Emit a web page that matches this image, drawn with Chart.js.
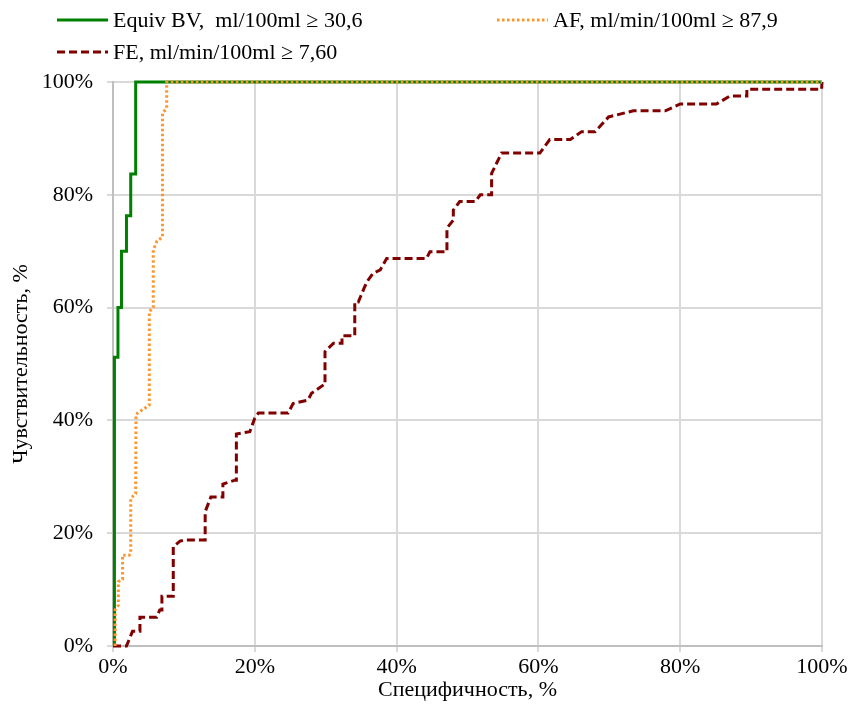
<!DOCTYPE html>
<html>
<head>
<meta charset="utf-8">
<script src="https://cdn.jsdelivr.net/npm/chart.js@4.4.1/dist/chart.umd.min.js"></script>
<style>
  body { margin: 0; background: #fff; }
  #wrap { position: relative; width: 850px; height: 706px; }
  #legend {
    position: absolute; left: 57px; top: 4px;
    display: grid; grid-template-columns: 440px auto; row-gap: 0px;
    font-family: "Liberation Serif", "Times New Roman", serif; font-size: 22px; color: #000;
  }
  .item { display: flex; align-items: center; height: 32px; white-space: pre; }
  .item svg { margin-right: 5px; }
</style>
</head>
<body>
<div id="wrap">
  <canvas id="myChart" width="850" height="706"></canvas>
  <div id="legend"></div>
</div>
<script>
// series labels
var labels = ['Equiv BV,  ml/100ml \u2265 30,6', 'AF, ml/min/100ml \u2265 87,9', 'FE, ml/min/100ml \u2265 7,60'];

// 1 - specificity (%), sensitivity (%)
var bvX = [0.2, 0.2, 0.7, 0.7, 1.2, 1.2, 1.9, 1.9, 2.5, 2.5, 3.2, 3.2, 100];
var bvY = [0, 51.2, 51.2, 60, 60, 70, 70, 76.3, 76.3, 83.7, 83.7, 100, 100];

var afX = [0.3, 0.3, 0.75, 0.75, 1.35, 1.35, 2.3, 2.5, 2.5, 3.2, 3.24, 5.12, 5.12, 5.68, 5.68, 6.2, 6.98, 6.98, 7.57, 7.57, 100];
var afY = [0, 6.4, 7.2, 11.4, 11.8, 16.1, 16.1, 16.5, 26.2, 27, 41.1, 42.7, 59.3, 60, 70.2, 71.8, 72.5, 94.5, 95.3, 100, 100];

var feX = [0, 1.9, 2.75, 3.8, 3.8, 6.16, 6.6, 6.9, 6.9, 8.5, 8.5, 9.45, 10.15, 13.0, 13.0, 13.8, 15.5, 15.5, 17.2, 17.4, 17.4,
  19.3, 20.0, 20.5, 24.7, 25.4, 27.5, 28.0, 28.7, 29.7, 29.9, 29.9, 31.1, 32.3, 32.3, 34.1, 34.1, 34.6, 35.5, 36.0, 36.7,
  37.7, 38.6, 44.2, 44.7, 47.1, 47.1, 48.0, 48.0, 48.9, 51.1, 51.8, 53.4, 53.4, 54.8, 60.2, 61.6, 64.5, 66.1, 68.0, 69.9,
  73.4, 77.9, 80.0, 85.1, 87.0, 89.4, 89.4, 99.95, 100];
var feY = [0, 0, 2.6, 2.6, 5.1, 5.1, 6.4, 6.4, 8.8, 8.8, 17.6, 18.6, 18.8, 18.8, 23.8, 26.4, 26.4, 28.7, 29.4, 29.4, 37.6,
  38.0, 40.4, 41.3, 41.3, 43.0, 43.6, 44.8, 45.4, 46.3, 46.3, 52.2, 53.7, 53.7, 55.0, 55.0, 61.0, 61.0, 63.7, 64.9, 66.1,
  66.7, 68.7, 68.7, 69.9, 69.9, 74.1, 75.5, 77.3, 78.8, 78.8, 80.0, 80.0, 83.8, 87.4, 87.4, 89.8, 89.8, 91.2, 91.2, 93.8,
  94.9, 94.9, 96.1, 96.1, 97.5, 97.5, 98.7, 98.7, 100];

var xTicks = [0, 20, 40, 60, 80, 100];

function pts(xs, ys) {
  var out = [];
  for (var i = 0; i < xs.length; i++) {
    out.push({x: xs[i], y: ys[i]});
  }
  return out;
}

var font = "'Liberation Serif', 'Times New Roman', serif";

const data = {
  datasets: [
    {
      label: labels[0],
      data: pts(bvX, bvY),
      borderColor: 'rgb(0,128,0)',
      borderWidth: 3,
      order: 1,
    },
    {
      label: labels[1],
      data: pts(afX, afY),
      borderColor: 'rgb(255,150,45)',
      borderWidth: 3,
      borderDash: [2.5, 2.5],
      order: 0,
    },
    {
      label: labels[2],
      data: pts(feX, feY),
      borderColor: 'rgb(128,0,0)',
      borderWidth: 3,
      borderDash: [8, 4],
      order: 2,
    }
  ]
};

const config = {
  type: 'scatter',
  data: data,
  options: {
    responsive: false,
    animation: false,
    layout: { padding: { top: 82, right: 28, left: 0, bottom: 0 } },
    elements: {
      line: { tension: 0, fill: false },
      point: { radius: 0, hoverRadius: 0 }
    },
    datasets: { scatter: { showLine: true, clip: 6 } },
    plugins: {
      legend: { display: false },
      tooltip: { enabled: false }
    },
    scales: {
      x: {
        type: 'linear', min: 0, max: 100,
        afterBuildTicks: function(s) { s.ticks = xTicks.map(function(v) { return {value: v}; }); },
        afterFit: function(s) { s.height = 60; },
        grid: { color: '#d9d9d9', lineWidth: 2, tickLength: 6 },
        border: { color: '#bfbfbf', width: 2 },
        ticks: { color: '#000', padding: 2, font: { family: font, size: 22 }, maxRotation: 0,
                 callback: function(v) { return v + '%'; } },
        title: { display: true, text: 'Специфичность, %', color: '#000',
                 font: { family: font, size: 22 }, padding: { top: 0, bottom: 3 } }
      },
      y: {
        type: 'linear', min: 0, max: 100,
        afterBuildTicks: function(s) { s.ticks = xTicks.map(function(v) { return {value: v}; }); },
        afterFit: function(s) { s.width = 113; },
        grid: { color: '#d9d9d9', lineWidth: 2, tickLength: 6 },
        border: { color: '#bfbfbf', width: 2 },
        ticks: { color: '#000', padding: 14, font: { family: font, size: 22 },
                 callback: function(v) { return v + '%'; } },
        title: { display: true, text: 'Чувствительность, %', color: '#000',
                 font: { family: font, size: 22 }, padding: { top: 8, bottom: 0 } }
      }
    }
  }
};

var myChart = new Chart(document.getElementById('myChart'), config);

// legend in two columns like the original
var legend = document.getElementById('legend');
var samples = [
  {color: 'rgb(0,128,0)', width: 3, dash: ''},
  {color: 'rgb(255,150,45)', width: 3, dash: '2.5,2.5'},
  {color: 'rgb(128,0,0)', width: 3, dash: '8,4'}
];
for (var i = 0; i < labels.length; i++) {
  var s = samples[i];
  var div = document.createElement('div');
  div.className = 'item';
  div.innerHTML = '<svg width="51" height="6"><line x1="0" y1="3" x2="51" y2="3" stroke="' + s.color +
    '" stroke-width="' + s.width + '"' + (s.dash ? ' stroke-dasharray="' + s.dash + '"' : '') + '/></svg>';
  var span = document.createElement('span');
  span.textContent = labels[i];
  div.appendChild(span);
  legend.appendChild(div);
}
</script>
</body>
</html>
